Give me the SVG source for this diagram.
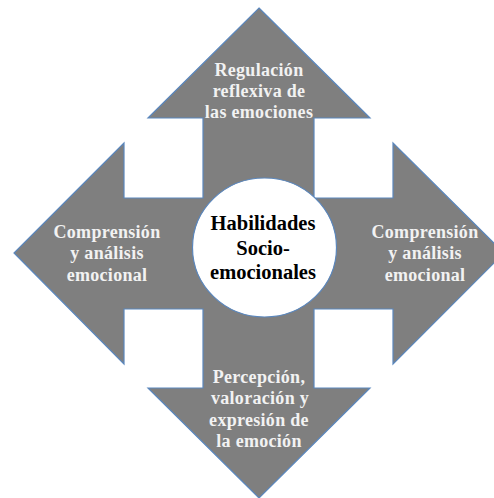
<svg xmlns="http://www.w3.org/2000/svg" width="494" height="498" viewBox="0 0 494 498">
  <style>
    .arrow { fill: #7f7f7f; stroke: none; }
    .outline { fill: none; stroke: #5b87bd; stroke-width: 1.2; stroke-linejoin: miter; }
    .lbl { font-family: "Liberation Serif", "Times New Roman", serif; font-weight: bold; font-size: 18px; fill: #f2f2f2; text-anchor: middle; letter-spacing: 0.3px; }
    .ctr { font-family: "Liberation Serif", "Times New Roman", serif; font-weight: bold; font-size: 20.5px; fill: #000000; text-anchor: middle; }
  </style>
  <rect x="0" y="0" width="494" height="498" fill="#ffffff"/>
  <g id="arrow-up">
    <polygon class="arrow" points="259,8 370,118 314,118 314,253 203,253 203,118 148,118"/>
  </g>
  <g id="arrow-left">
    <polygon class="arrow" points="14,253 124,143 124,198 259,198 259,309 124,309 124,364"/>
  </g>
  <g id="arrow-right">
    <polygon class="arrow" points="504,253 393,143 393,198 259,198 259,309 393,309 393,364"/>
  </g>
  <g id="arrow-down">
    <polygon class="arrow" points="259,498 370,388 314,388 314,253 203,253 203,388 148,388"/>
  </g>
  <g id="connectors">
    <path class="outline" d="M259,8 L370,118 L314,118 L314,198 L393,198 L393,143 L504,253 L393,364 L393,309 L314,309 L314,388 L370,388 L259,498 L148,388 L203,388 L203,309 L124,309 L124,364 L14,253 L124,143 L124,198 L203,198 L203,118 L148,118 Z"/>
  </g>
  <g id="label-up">
    <text class="lbl" x="259" y="76">Regulación</text>
    <text class="lbl" x="259" y="97">reflexiva de</text>
    <text class="lbl" x="259" y="118">las emociones</text>
  </g>
  <g id="label-left">
    <text class="lbl" x="107" y="238">Comprensión</text>
    <text class="lbl" x="107" y="259">y análisis</text>
    <text class="lbl" x="107" y="281">emocional</text>
  </g>
  <g id="label-right">
    <text class="lbl" x="425" y="238">Comprensión</text>
    <text class="lbl" x="425" y="259">y análisis</text>
    <text class="lbl" x="425" y="281">emocional</text>
  </g>
  <g id="label-down">
    <text class="lbl" x="259" y="383">Percepción,</text>
    <text class="lbl" x="260" y="404">valoración y</text>
    <text class="lbl" x="259" y="426">expresión de</text>
    <text class="lbl" x="259" y="447">la emoción</text>
  </g>
  <g id="center">
    <ellipse cx="264.5" cy="247.5" rx="72" ry="69.5" fill="#ffffff" stroke="#5b87bd" stroke-width="1.2"/>
    <text class="ctr" x="263" y="230">Habilidades</text>
    <text class="ctr" x="263" y="255">Socio-</text>
    <text class="ctr" x="263" y="279">emocionales</text>
  </g>
</svg>
